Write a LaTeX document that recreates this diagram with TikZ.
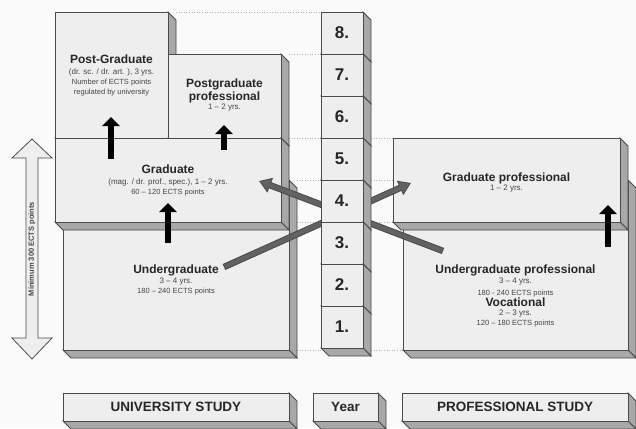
\documentclass[tikz,border=0pt]{standalone}
\usepackage{fontspec}
\setmainfont{Liberation Sans}
\usetikzlibrary{arrows.meta}

\definecolor{facegray}{HTML}{EEEEEE}
\definecolor{sidegray}{HTML}{A8A8A8}
\definecolor{edgegray}{HTML}{4A4A4A}
\definecolor{arrowgray}{HTML}{626262}
\definecolor{textgray}{HTML}{444444}

% box with a right side and a bottom face, front face (x1,y1)-(x2,y2)
\newcommand{\cube}[4]{%
  \filldraw[sidegray, draw=edgegray] (#3,#2) -- ++(8,8) -- (#3+8,#4+8) -- (#3,#4) -- cycle;
  \filldraw[sidegray, draw=edgegray] (#1,#4) -- (#3,#4) -- (#3+8,#4+8) -- (#1+8,#4+8) -- cycle;
  \filldraw[fill=facegray, draw=edgegray] (#1,#2) rectangle (#3,#4);}
\newcommand{\hdfont}{\fontsize{12}{13}\selectfont\bfseries\color{black!85}}
\newcommand{\subfont}{\fontsize{8}{10}\selectfont}

\tikzset{
  boxtext/.style={align=center, inner sep=0pt, text=textgray, font=\fontsize{7.5}{10}\selectfont},
  yearnum/.style={font=\fontsize{17}{17}\selectfont\bfseries, text=black!85},
  foot/.style={font=\fontsize{13.5}{14}\selectfont\bfseries, text=black!85},
  uparrow/.style={line width=6pt, -{Triangle[width=17pt,length=9pt]}},
  linkout/.style={line width=6.5pt, edgegray, -{Triangle[width=15pt,length=12pt]}},
  linkin/.style={line width=4.5pt, arrowgray, shorten <=1pt, shorten >=1.6pt, -{Triangle[width=11.5pt,length=9.5pt]}},
  guide/.style={gray!60, dotted, line width=0.6pt}
}

\begin{document}
\begin{tikzpicture}[line join=miter, x=1pt, y=-1pt, line width=0.8pt]
\useasboundingbox (0,0) rectangle (636,428);
\fill[white!98!black] (0,0) rectangle (636,428);

% guide lines
\draw[guide] (176,12) -- (321,12);
\draw[guide] (289,54) -- (321,54);
\draw[guide] (289,138) -- (321,138);
\draw[guide] (371,138) -- (393,138);
\draw[guide] (297,180) -- (321,180);
\draw[guide] (371,180) -- (403,180);
\draw[guide] (297,222) -- (321,222);
\draw[guide] (371,222) -- (403,222);
\draw[guide] (297,350) -- (321,350);
\draw[guide] (371,350) -- (403,350);

% university study
\cube{63}{180}{289}{350}
\cube{55}{12}{168}{138}
\cube{168}{54}{281}{138}
\cube{55}{138}{281}{222}

% professional study
\cube{403}{180}{628}{350}
\cube{393}{138}{620}{222}

% text
\node[boxtext] (pg) at (111.5,75.5) {{\hdfont Post-Graduate}\\[1pt]
  {\subfont (dr. sc. / dr. art. ), 3 yrs.}\\
  Number of ECTS points\\ regulated by university};
\node[boxtext] (pgp) at (224.5,95) {{\hdfont Postgraduate}\\[1.5pt]
  {\hdfont professional}\\[-1pt]
  {\subfont 1 -- 2 yrs.}};
\node[boxtext] (gr) at (168,180.5) {{\hdfont Graduate}\\[1pt]
  {\subfont (mag. / dr. prof., spec.), 1 -- 2 yrs.}\\
  60 -- 120 ECTS points};
\node[boxtext] (ug) at (176,279.5) {{\hdfont Undergraduate}\\[0pt]
  {\subfont 3 -- 4 yrs.}\\
  180 -- 240 ECTS points};
\node[boxtext] (grp) at (506.5,182.5) {{\hdfont Graduate professional}\\[-1pt]
  {\subfont 1 -- 2 yrs.}};
\node[boxtext] (ugp) at (515.5,296) {{\hdfont Undergraduate professional}\\[0pt]
  {\subfont 3 -- 4 yrs.}\\[2pt]
  180 - 240 ECTS points\\[0pt]
  {\hdfont Vocational}\\[-1pt]
  {\subfont 2 -- 3 yrs.}\\
  120 -- 180 ECTS points};

% links between the two kinds of study
\coordinate (ugout) at (224,267);
\coordinate (grpin) at (411,183);
\coordinate (ugpout) at (443,251);
\coordinate (grin) at (259,181);
\draw[linkout] (ugout) -- (grpin);
\draw[linkin] (ugout) -- (grpin);
\draw[linkout] (ugpout) -- (grin);
\draw[linkin] (ugpout) -- (grin);

% year column
\foreach \n in {8,7,...,1}{
  \pgfmathsetmacro{\yt}{12+42*(8-\n)}
  \cube{321}{\yt}{363}{\yt+42}
  \node[yearnum] (yr\n) at (342,\yt+21) {\n.};
}

% up arrows
\coordinate (pgfrom) at (111,159);
\coordinate (pgto) at (111,117);
\coordinate (pgpfrom) at (224,150);
\coordinate (pgpto) at (224,125);
\coordinate (grfrom) at (168,243);
\coordinate (grto) at (168,203);
\coordinate (grpfrom) at (608,247);
\coordinate (grpto) at (608,205);
\draw[uparrow] (pgfrom) -- (pgto);
\draw[uparrow] (pgpfrom) -- (pgpto);
\draw[uparrow] (grfrom) -- (grto);
\draw[uparrow] (grpfrom) -- (grpto);

% minimum points arrow
\filldraw[fill=facegray, draw=edgegray] (32,139) -- (52,158) -- (38,158) -- (38,338)
  -- (52,338) -- (32,359) -- (12,338) -- (26,338) -- (26,158) -- (12,158) -- cycle;
\node[rotate=90, font=\fontsize{7.5}{8}\selectfont\bfseries, text=textgray] (mins) at (32,249) {Minimum 300 ECTS points};

% footer
\cube{63}{393}{289}{421}
\cube{313}{393}{378}{421}
\cube{402}{393}{628}{421}
\node[foot] (univ) at (176,407) {UNIVERSITY STUDY};
\node[foot] (year) at (345.5,407) {Year};
\node[foot] (prof) at (515,407) {PROFESSIONAL STUDY};
\end{tikzpicture}
\end{document}
